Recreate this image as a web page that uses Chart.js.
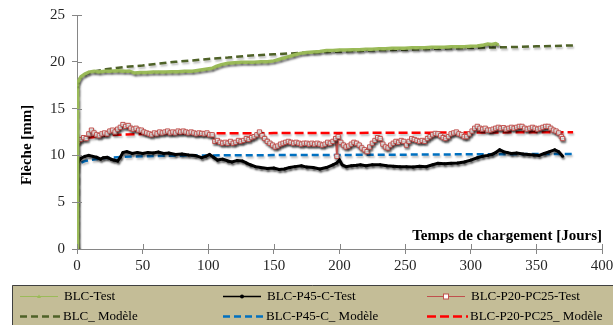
<!DOCTYPE html>
<html><head><meta charset="utf-8">
<script src="https://cdn.jsdelivr.net/npm/chart.js@4.4.1/dist/chart.umd.min.js"></script>
<style>html,body{margin:0;padding:0;background:#fff;overflow:hidden}#wrap{position:relative;width:613px;height:325px}</style>
</head><body><div id="wrap"><canvas id="c" width="613" height="325"></canvas></div>
<script>
const xTicks = [0,50,100,150,200,250,300,350,400];
const yTicks = [0,5,10,15,20,25];
const xTitle = 'Temps de chargement [Jours]';
const yTitle = 'Flèche [mm]';
const seriesNames = ['BLC-Test','BLC-P45-C-Test','BLC-P20-PC25-Test','BLC_ Modèle','BLC-P45-C_ Modèle','BLC-P20-PC25_ Modèle'];

const blcTestDays = [0,0.5,1,3,6,9,13,17,21,26,31,36,40,44,48,53,58,62,67,72,77,82,88,93,98,103,106,110,115,120,125,130,135,140,145,150,155,160,165,170,175,180,185,190,195,200,205,210,215,220,225,230,235,240,245,250,255,260,265,270,275,280,285,290,295,300,305,310,313,316,319,321];
const blcTestVals = [0,17.5,17.9,18.4,18.7,18.9,19.0,18.9,19.0,19.0,19.05,19.0,19.0,18.8,18.85,18.85,18.9,18.9,18.9,18.95,18.95,19.0,19.0,19.1,19.2,19.3,19.5,19.7,19.85,19.9,19.95,19.95,19.95,20.0,20.0,20.1,20.3,20.5,20.7,20.9,21.0,21.05,21.1,21.2,21.2,21.25,21.25,21.3,21.3,21.35,21.35,21.4,21.4,21.45,21.45,21.45,21.5,21.5,21.5,21.55,21.55,21.55,21.6,21.6,21.6,21.65,21.7,21.8,21.9,21.85,21.95,21.8];

const p45TestDays = [0,0.5,1,3,6,9,12,15,18,20,23,26,28,31,33,35,38,42,46,50,54,58,62,66,70,75,80,85,90,95,98,101,104,107,111,115,118,122,126,129,132,136,140,145,150,154,158,162,166,171,175,180,185,190,195,198,200,202,205,209,213,216,220,225,231,236,241,246,251,256,261,266,271,275,280,285,290,295,300,305,309,313,316,319,322,325,328,331,335,340,344,348,352,356,360,364,367,370];
const p45TestVals = [0,9.0,9.3,9.7,9.9,10.0,9.9,9.8,9.6,9.75,9.8,9.6,9.5,9.4,9.8,10.3,10.4,10.2,10.3,10.2,10.3,10.25,10.35,10.2,10.25,10.1,10.15,10.05,10.0,9.75,9.9,10.1,9.8,9.5,9.6,9.4,9.3,9.45,9.4,9.2,9.0,8.8,8.7,8.6,8.65,8.5,8.55,8.7,8.8,8.9,8.75,8.7,8.55,8.7,9.0,9.2,9.5,9.0,8.8,8.9,8.95,9.0,8.9,9.0,9.0,8.9,8.85,8.8,8.8,8.75,8.85,8.8,9.0,9.15,9.1,9.15,9.2,9.3,9.5,9.75,9.9,10.0,10.1,10.3,10.6,10.4,10.3,10.2,10.25,10.15,10.1,10.05,10.0,10.2,10.4,10.6,10.4,9.9];

const pc25TestDays = [0,1,3,5,7,9,11,13,15,17,19,21,23,25,27,29,31,33,35,37,39,41,43,45,47,49,51,53,55,57,59,61,63,65,67,69,71,73,75,77,79,81,83,85,87,89,91,93,95,97,99,101,103,105,107,109,111,113,115,117,119,121,123,125,127,129,131,133,135,137,139,141,143,145,147,149,151,153,155,157,159,161,163,165,167,169,171,173,175,177,179,181,183,185,187,189,191,193,195,197,198,199,201,203,205,207,209,211,213,215,217,219,221,223,225,227,229,231,233,235,237,239,241,243,245,247,249,251,253,255,257,259,261,263,265,267,269,271,273,275,277,279,281,283,285,287,289,291,293,295,297,299,301,303,305,307,309,311,313,315,317,319,321,323,325,327,329,331,333,335,337,339,341,343,345,347,349,351,353,355,357,359,361,363,365,367,369,370];
const pc25TestVals = [0,11.5,11.7,11.9,11.8,12.3,12.7,12.4,12.2,12.1,12.3,12.4,12.3,12.6,12.7,12.5,12.8,13.0,13.3,13.1,13.2,12.9,12.8,12.9,12.7,12.7,12.5,12.4,12.3,12.2,12.4,12.3,12.5,12.4,12.5,12.6,12.4,12.5,12.4,12.6,12.5,12.6,12.5,12.4,12.5,12.4,12.3,12.4,12.35,12.3,12.4,12.2,12.2,11.5,11.6,11.4,11.3,11.4,11.3,11.5,11.3,11.4,11.6,11.5,11.6,11.8,11.7,11.9,12.0,12.2,12.5,12.1,11.8,11.5,11.3,11.1,10.9,11.0,11.2,11.3,11.4,11.5,11.4,11.3,11.4,11.3,11.2,11.3,11.3,11.2,11.3,11.2,11.3,11.2,11.1,11.2,11.4,11.3,11.5,11.8,9.9,12.0,11.4,11.1,10.9,11.0,11.2,11.4,11.3,11.1,10.8,10.6,10.4,10.9,11.3,11.6,11.9,11.8,11.2,10.9,10.8,11.1,11.3,11.5,11.4,11.6,11.5,11.1,11.5,11.8,11.7,11.6,11.5,11.6,11.5,11.8,12.0,12.2,12.35,12.3,12.1,11.9,11.8,12.0,12.3,12.4,12.5,12.3,12.2,12.0,12.0,12.3,12.6,12.9,13.1,12.9,12.8,12.9,12.7,12.7,12.8,12.9,13.0,12.9,12.96,12.8,12.9,13.0,12.9,13.0,13.1,13.1,12.9,12.8,12.9,13.0,12.9,12.8,12.9,13.0,13.1,13.1,12.9,12.7,12.6,12.4,12.0,11.8];

const blcModelDays = [0,0.3,0.6,1,2,4,7,11,16,22,30,40,50,62,75,88,100,115,130,150,170,190,210,230,250,275,300,325,350,378];
const blcModelVals = [0,12,17,17.8,18.2,18.5,18.7,18.9,19.05,19.2,19.35,19.5,19.6,19.8,20.0,20.15,20.3,20.45,20.65,20.8,20.95,21.05,21.15,21.25,21.3,21.4,21.5,21.55,21.65,21.75];

const p45ModelDays = [0,0.3,0.7,1,3,6,10,19,36,55,75,100,150,200,250,300,350,378];
const p45ModelVals = [0,6,8.7,9.0,9.2,9.4,9.5,9.7,9.86,9.92,9.97,10.0,10.03,10.05,10.08,10.12,10.14,10.16];

const pc25ModelDays = [0,0.3,0.6,1,3,6,12,20,30,50,75,100,150,200,250,300,350,378];
const pc25ModelVals = [0,8,11.2,11.5,11.7,11.85,11.95,12.1,12.2,12.28,12.32,12.35,12.38,12.4,12.42,12.45,12.47,12.48];

const pts = (d, v) => d.map((x, i) => ({x, y: v[i]}));
const SERIF = "'Liberation Serif','Times New Roman',serif";

const datasets = [
  {label: seriesNames[0], data: pts(blcTestDays, blcTestVals), borderColor:'#9BBB59', backgroundColor:'#9BBB59', borderWidth:3.5, pointStyle:'triangle', pointRadius:1.5, pointBorderWidth:0, pointBackgroundColor:'#9BBB59', order:1},
  {label: seriesNames[1], data: pts(p45TestDays, p45TestVals), borderColor:'#000', backgroundColor:'#000', borderWidth:3, pointRadius:1.5, pointBorderWidth:0, pointBackgroundColor:'#000', order:1},
  {label: seriesNames[2], data: pts(pc25TestDays, pc25TestVals), borderColor:'#C0504D', backgroundColor:'#fff', borderWidth:1.5, pointStyle:'rect', pointRadius:3, pointBorderWidth:1, pointBorderColor:'#C0504D', pointBackgroundColor:'#fff', order:1},
  {label: seriesNames[3], data: pts(blcModelDays, blcModelVals), borderColor:'#4F6228', borderWidth:2.5, borderDash:[7,4], pointRadius:0, order:2},
  {label: seriesNames[4], data: pts(p45ModelDays, p45ModelVals), borderColor:'#0070C0', borderWidth:2.5, borderDash:[7,4], pointRadius:0, order:2},
  {label: seriesNames[5], data: pts(pc25ModelDays, pc25ModelVals), borderColor:'#FF0000', borderWidth:2.5, borderDash:[9,4], pointRadius:0, order:2}
];

const shadowPlugin = {
  id:'shadowPlugin',
  beforeDatasetDraw(chart, args){
    const ctx = chart.ctx; ctx.save();
    const isTest = args.index < 3;
    ctx.shadowColor = isTest ? 'rgba(0,0,0,0.45)' : 'rgba(0,0,0,0.25)';
    ctx.shadowBlur = 2; ctx.shadowOffsetX = 1; ctx.shadowOffsetY = 2;
  },
  afterDatasetDraw(chart){ chart.ctx.restore(); }
};

const legendCols = [20, 223, 427];
const legendRows = [296, 316];
const decor = {
  id:'decor',
  afterDraw(chart){
    const {ctx, chartArea:a, scales:{x, y}} = chart;
    ctx.save();
    ctx.strokeStyle = '#868686'; ctx.lineWidth = 1;
    ctx.beginPath();
    yTicks.forEach(v => { const py = Math.round(y.getPixelForValue(v)) + 0.5; ctx.moveTo(a.left, py); ctx.lineTo(a.left + 5, py); });
    xTicks.forEach(v => { const px = Math.round(x.getPixelForValue(v)) + 0.5; ctx.moveTo(px, a.bottom); ctx.lineTo(px, a.bottom - 5); });
    ctx.stroke();
    ctx.fillStyle = '#000';
    ctx.font = 'bold 15px ' + SERIF;
    ctx.textAlign = 'right'; ctx.textBaseline = 'alphabetic';
    ctx.fillText(xTitle, a.right, a.bottom - 9);
    ctx.save();
    ctx.translate(a.left - 50, a.top + (a.bottom - a.top) * 0.555);
    ctx.rotate(-Math.PI / 2);
    ctx.textAlign = 'center'; ctx.textBaseline = 'middle';
    ctx.fillText(yTitle, 0, 0);
    ctx.restore();

    // legend box
    const W = chart.width, H = chart.height;
    ctx.fillStyle = '#C4BD97';
    ctx.fillRect(12, 285, W - 12, H - 285);
    ctx.strokeStyle = '#404040'; ctx.lineWidth = 1;
    ctx.beginPath(); ctx.moveTo(12.5, H); ctx.lineTo(12.5, 285.5); ctx.lineTo(W, 285.5); ctx.stroke();

    ctx.font = '13px ' + SERIF;
    ctx.textAlign = 'left'; ctx.textBaseline = 'middle';
    chart.data.datasets.forEach((ds, i) => {
      const col = i % 3, row = Math.floor(i / 3);
      const x0 = legendCols[col], yy = legendRows[row] + 0.5;
      const len = row === 0 ? 38 : 41;
      ctx.save();
      ctx.strokeStyle = ds.borderColor;
      ctx.lineWidth = row === 0 ? (i === 1 ? 1.5 : 1.2) : 2.5;
      ctx.setLineDash(ds.borderDash || []);
      ctx.beginPath(); ctx.moveTo(x0, yy); ctx.lineTo(x0 + len, yy); ctx.stroke();
      ctx.setLineDash([]);
      const mx = x0 + len / 2;
      if (i === 0) { ctx.fillStyle = ds.borderColor; ctx.beginPath(); ctx.moveTo(mx, yy - 2); ctx.lineTo(mx + 2, yy + 1.5); ctx.lineTo(mx - 2, yy + 1.5); ctx.closePath(); ctx.fill(); }
      if (i === 1) { ctx.fillStyle = '#000'; ctx.beginPath(); ctx.arc(mx, yy, 2, 0, Math.PI * 2); ctx.fill(); }
      if (i === 2) { ctx.fillStyle = '#fff'; ctx.fillRect(mx - 2.5, yy - 2.5, 5, 5); ctx.lineWidth = 1; ctx.strokeRect(mx - 2.5, yy - 2.5, 5, 5); }
      ctx.restore();
      ctx.fillStyle = '#000';
      ctx.fillText(ds.label, x0 + len + (row === 0 ? 6 : 2), yy);
    });
    ctx.restore();
  }
};

new Chart(document.getElementById('c'), {
  type:'line',
  data:{datasets},
  plugins:[shadowPlugin, decor],
  options:{
    responsive:false, animation:false, devicePixelRatio:1,
    layout:{padding:{top:15, right:11, left:0, bottom:0}},
    plugins:{legend:{display:false}, tooltip:{enabled:false}},
    elements:{line:{tension:0}},
    scales:{
      x:{type:'linear', min:0, max:400,
        afterBuildTicks(s){ s.ticks = xTicks.map(v => ({value:v})); },
        ticks:{font:{family:SERIF, size:15}, color:'#262626', padding:3, maxRotation:0, autoSkip:false},
        grid:{drawOnChartArea:false, tickLength:5, color:'#868686'},
        border:{color:'#868686'},
        afterFit(s){ s.height = 76; s.paddingLeft = 0; s.paddingRight = 0; }
      },
      y:{type:'linear', min:0, max:25,
        afterBuildTicks(s){ s.ticks = yTicks.map(v => ({value:v})); },
        ticks:{font:{family:SERIF, size:15}, color:'#262626', padding:7},
        grid:{drawOnChartArea:false, tickLength:5, color:'#868686'},
        border:{color:'#868686'},
        afterFit(s){ s.width = 77; s.paddingTop = 0; s.paddingBottom = 0; }
      }
    }
  }
});
</script></body></html>
